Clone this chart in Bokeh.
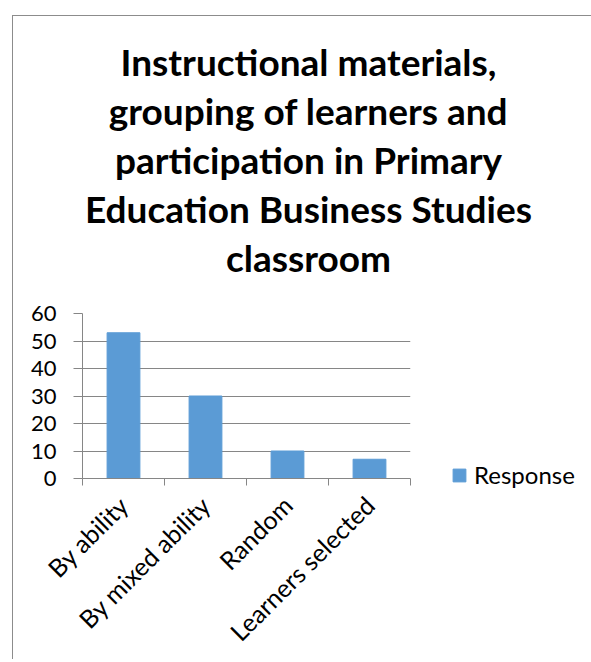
import math
from bokeh.plotting import figure
from bokeh.layouts import column
from bokeh.models import Range1d, FixedTicker, Legend, LegendItem
from bokeh.core.properties import value
from bokeh.embed import file_html
from bokeh.resources import INLINE

categories = ["By ability", "By mixed ability", "Random", "Learners selected"]
responses = [53, 30, 10, 7]
y_ticks = [0, 10, 20, 30, 40, 50, 60]
series_name = "Response"
title_lines = [
    "Instructional materials,",
    "grouping of learners and",
    "participation in Primary",
    "Education Business Studies",
    "classroom",
]

centers = [i + 0.5 for i in range(len(categories))]
bounds = list(range(len(categories) + 1))

GRAY = "#868686"
FONT = "Lato"
FRAME_W = 328
RIGHT_W = 178
TITLE_H = 279

# ---- title block (separate borderless figure, frames are aligned in the column) ----
TW = FRAME_W + RIGHT_W
pt = figure(frame_width=TW, frame_height=TITLE_H, output_backend="svg", toolbar_location=None,
            x_range=Range1d(0, TW), y_range=Range1d(0, TITLE_H),
            x_axis_type=None, y_axis_type=None,
            min_border_left=69, min_border_right=0,
            min_border_top=0, min_border_bottom=0)
pt.outline_line_color = None
pt.grid.visible = False
TITLE_X = 226
TITLE_TOP = 234
TITLE_STEP = 49
pt.text(x=[TITLE_X] * len(title_lines),
        y=[TITLE_TOP - i * TITLE_STEP for i in range(len(title_lines))],
        text=title_lines, text_align="center", text_baseline="middle",
        text_font=value(FONT), text_font_style="bold", text_font_size="37px",
        text_color="black")

# ---- chart ----
p = figure(frame_width=FRAME_W, frame_height=165, output_backend="svg", toolbar_location=None,
           x_range=Range1d(0, len(categories)), y_range=Range1d(y_ticks[0], y_ticks[-1]),
           min_border_left=69, min_border_top=18, min_border_right=RIGHT_W, min_border_bottom=178)

r = p.vbar(x=centers, top=responses, width=0.4, fill_color="#5B9BD5", line_color="#5B9BD5")

p.outline_line_color = None
p.xgrid.visible = False
p.ygrid.grid_line_color = GRAY
p.ygrid.ticker = FixedTicker(ticks=y_ticks)

p.yaxis.ticker = FixedTicker(ticks=y_ticks)
p.yaxis.axis_line_color = GRAY
p.yaxis.major_tick_line_color = GRAY
p.yaxis.major_tick_out = 9
p.yaxis.major_tick_in = 0
p.yaxis.minor_tick_out = 0
p.yaxis.minor_tick_in = 0
p.yaxis.major_label_text_font = FONT
p.yaxis.major_label_text_font_size = "22px"
p.yaxis.major_label_text_color = "black"
p.yaxis.major_label_standoff = 17

p.xaxis.ticker = FixedTicker(ticks=centers, minor_ticks=bounds)
p.xaxis.major_label_overrides = {c: cat for c, cat in zip(centers, categories)}
p.xaxis.axis_line_color = GRAY
p.xaxis.major_tick_line_color = None
p.xaxis.minor_tick_line_color = GRAY
p.xaxis.minor_tick_out = 7
p.xaxis.minor_tick_in = 0
p.xaxis.major_label_orientation = math.pi / 4
p.xaxis.major_label_text_font = FONT
p.xaxis.major_label_text_font_size = "25px"
p.xaxis.major_label_text_color = "black"
p.xaxis.major_label_standoff = 15

legend = Legend(items=[LegendItem(label=series_name, renderers=[r])],
                location=(41, -11), orientation="vertical",
                border_line_color=None, background_fill_alpha=0,
                padding=0, margin=0, spacing=0,
                glyph_width=16, glyph_height=16, label_standoff=7,
                label_text_font=FONT, label_text_font_size="24px",
                label_text_color="black", label_height=16)
p.add_layout(legend, "right")

layout = column(pt, p, spacing=0)
layout.styles = {"margin-left": "12px", "margin-top": "15px",
                 "border-left": "1px solid #8c8c8c", "border-top": "1px solid #8c8c8c"}

open("out.html", "w").write(file_html(layout, INLINE))
